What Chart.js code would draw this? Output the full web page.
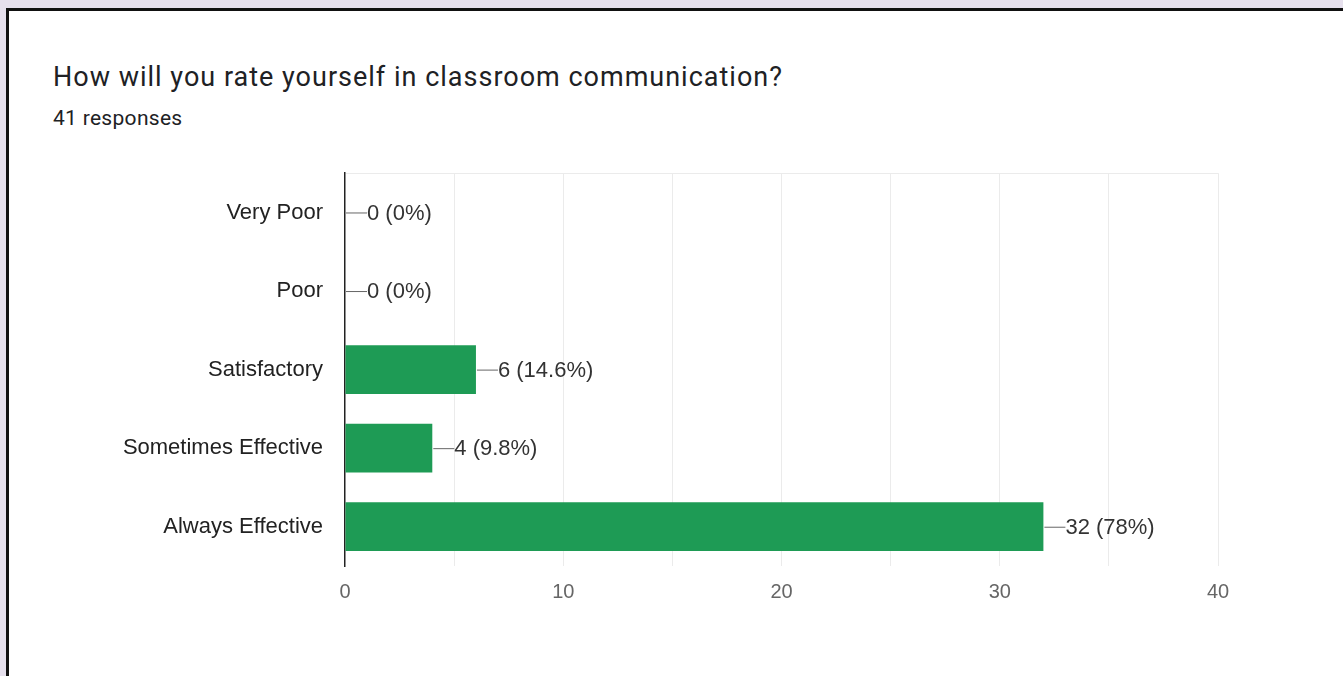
<!DOCTYPE html>
<html>
<head>
<meta charset="utf-8">
<script src="https://cdn.jsdelivr.net/npm/chart.js@4"></script>
<style>
    html, body { margin: 0; padding: 0; overflow: hidden; }
    body {
        width: 1343px; height: 676px;
        background: #e6e0ed;
        font-family: Roboto, "Noto Sans", sans-serif;
    }
    .card {
        position: absolute; left: 6px; top: 8px; width: 1360px; height: 700px;
        background: #fff;
        border-left: 3px solid #111;
        border-top: 3px solid #111;
    }
    .title {
        position: absolute; left: 53px; top: 61px;
        font-size: 27px; letter-spacing: 1px; color: #202124; white-space: nowrap;
    }
    .sub {
        position: absolute; left: 53px; top: 106px;
        font-size: 21px; letter-spacing: 0.3px; color: #202124; white-space: nowrap;
    }
    .wrap {
        position: absolute; left: 0; top: 138px; width: 1343px; height: 482px;
    }
</style>
</head>
<body>
<div class="card"></div>
<div class="title">How will you rate yourself in classroom communication?</div>
<div class="sub">41 responses</div>
<div class="wrap"><canvas id="chart"></canvas></div>
<script>
// 資料
const categories = ['Very Poor', 'Poor', 'Satisfactory', 'Sometimes Effective', 'Always Effective'];
const counts = [0, 0, 6, 4, 32];
const totalResponses = 41;
const xTicks = [0, 10, 20, 30, 40];

const labelFont = '"Liberation Sans", Arial, sans-serif';

function pctText(v) {
    let p = (v / totalResponses * 100).toFixed(1);
    if (p.endsWith('.0')) p = p.slice(0, -2);
    return `${v} (${p}%)`;
}

// 數值標籤（含引線）
const valueLabels = {
    id: 'valueLabels',
    afterDatasetsDraw(chart) {
        const ctx = chart.ctx;
        const meta = chart.getDatasetMeta(0);
        ctx.save();
        ctx.font = '22px ' + labelFont;
        ctx.textBaseline = 'middle';
        meta.data.forEach((bar, i) => {
            const x = bar.x;
            const y = bar.y;
            ctx.strokeStyle = '#666';
            ctx.lineWidth = 1;
            ctx.beginPath();
            ctx.moveTo(x + 1, y + 0.5);
            ctx.lineTo(x + 22, y + 0.5);
            ctx.stroke();
            ctx.fillStyle = '#333';
            ctx.fillText(pctText(counts[i]), x + 22, y + 1);
        });
        ctx.restore();
    }
};

const ctx = document.getElementById('chart').getContext('2d');
new Chart(ctx, {
    type: 'bar',
    data: {
        labels: categories,
        datasets: [{
            data: counts,
            backgroundColor: '#1e9b55',
            borderWidth: 0,
            categoryPercentage: 1,
            barPercentage: 0.62
        }]
    },
    options: {
        indexAxis: 'y',
        responsive: true,
        maintainAspectRatio: false,
        animation: false,
        layout: { padding: { top: 10, right: 125, left: 0, bottom: 0 } },
        plugins: {
            legend: { display: false },
            tooltip: { enabled: false }
        },
        scales: {
            x: {
                min: 0,
                max: 40,
                ticks: {
                    stepSize: 5,
                    autoSkip: false,
                    maxRotation: 0,
                    padding: 14,
                    color: '#666',
                    font: { family: labelFont, size: 20 },
                    callback: v => xTicks.includes(v) ? v : ''
                },
                grid: {
                    drawTicks: false,
                    color: c => c.index === 0 ? 'rgba(0,0,0,0)' : '#ebebeb',
                    lineWidth: 1
                },
                border: { display: false },
                afterFit: s => { s.height = 54; }
            },
            y: {
                ticks: {
                    padding: 22,
                    color: '#222',
                    font: { family: labelFont, size: 22 }
                },
                grid: {
                    drawTicks: false,
                    offset: true,
                    color: c => (c.index === 0 || c.index === categories.length) ? '#ebebeb' : 'rgba(0,0,0,0)',
                    lineWidth: 1
                },
                border: { display: true, color: '#222', width: 1.5 },
                afterFit: s => { s.width = 345; }
            }
        }
    },
    plugins: [valueLabels]
});
</script>
</body>
</html>
